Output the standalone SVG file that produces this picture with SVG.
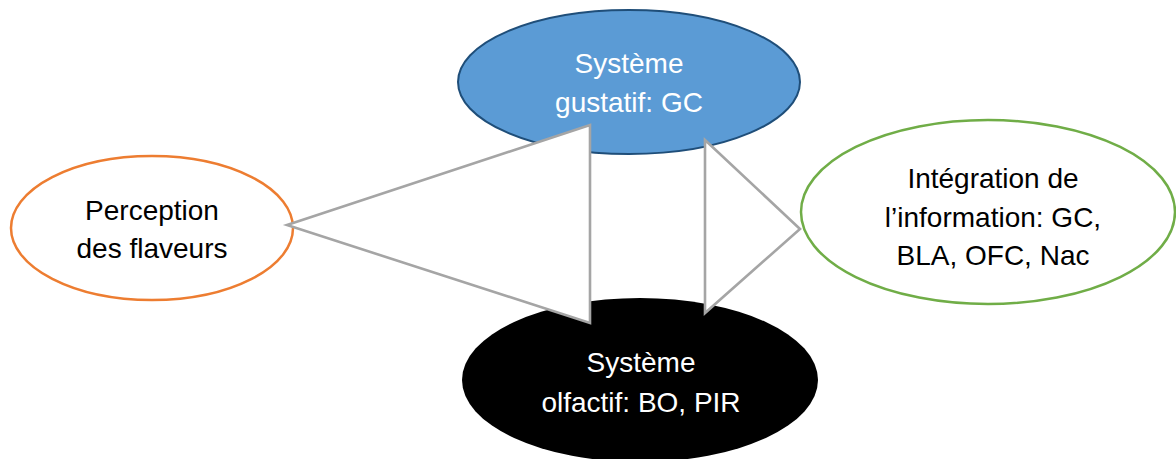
<svg xmlns="http://www.w3.org/2000/svg" width="1176" height="459" viewBox="0 0 1176 459">
<style>
text { font-family: "Liberation Sans", Arial, sans-serif; font-size: 28px; text-anchor: middle; }
.w { fill: #ffffff; }
.b { fill: #000000; }
.arrow { fill: #ffffff; stroke: #a5a5a5; stroke-width: 2.6; stroke-linejoin: miter; }
</style>
<rect width="1176" height="459" fill="#ffffff"/>
<g id="gustatif">
<ellipse cx="629" cy="82" rx="171" ry="72" fill="#5b9bd5" stroke="#1f4e79" stroke-width="2"/>
<text class="w" x="629" y="73">Système</text>
<text class="w" x="629" y="112">gustatif: GC</text>
</g>
<g id="olfactif">
<ellipse cx="640" cy="380" rx="178" ry="82" fill="#000000"/>
<text class="w" x="641" y="372">Système</text>
<text class="w" x="641" y="412">olfactif: BO, PIR</text>
</g>
<g id="perception">
<ellipse cx="152" cy="228" rx="141" ry="72" fill="#ffffff" stroke="#ed7d31" stroke-width="2.5"/>
<text class="b" x="152" y="220">Perception</text>
<text class="b" x="152" y="258">des flaveurs</text>
</g>
<g id="integration">
<ellipse cx="988" cy="212" rx="187" ry="92" fill="#ffffff" stroke="#70ad47" stroke-width="2.5"/>
<text class="b" x="993" y="188">Intégration de</text>
<text class="b" x="993" y="227">l’information: GC,</text>
<text class="b" x="993" y="265">BLA, OFC, Nac</text>
</g>
<g id="connectors">
<polygon class="arrow" points="287,225 590,125 590,323"/>
<polygon class="arrow" points="705,140 800,229 705,313"/>
</g>
</svg>
